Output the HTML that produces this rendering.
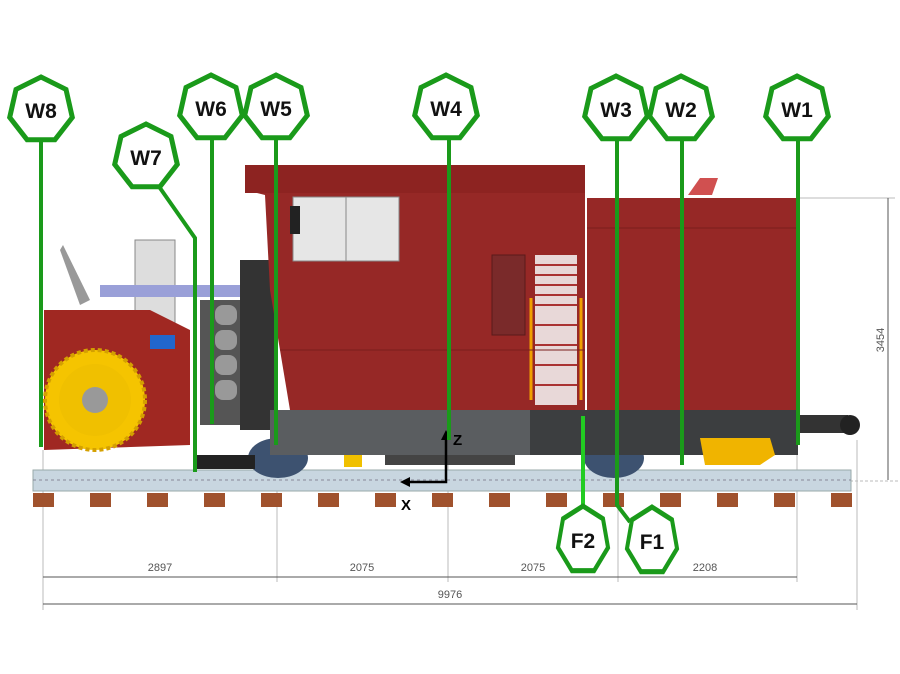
<!DOCTYPE html>
<html><head><meta charset="utf-8"><style>
html,body{margin:0;padding:0;background:#fff;width:900px;height:674px;overflow:hidden}
svg{display:block}
text{font-family:"Liberation Sans",sans-serif}
</style></head><body>
<svg width="900" height="674" viewBox="0 0 900 674" xmlns="http://www.w3.org/2000/svg">
<defs>
<polygon id="hep" points="0,-33 25,-20.6 31.3,7.4 13.9,29.8 -13.9,29.8 -31.3,7.4 -25,-20.6" fill="#fff" stroke="#1a9a1a" stroke-width="5"/>
</defs>
<g stroke="#bbb" stroke-width="1">
<line x1="43" y1="450" x2="43" y2="610"/><line x1="277" y1="450" x2="277" y2="582"/>
<line x1="448" y1="450" x2="448" y2="582"/><line x1="618" y1="450" x2="618" y2="582"/>
<line x1="797" y1="450" x2="797" y2="582"/><line x1="857" y1="440" x2="857" y2="610"/>
<line x1="800" y1="198" x2="895" y2="198"/><line x1="850" y1="481" x2="900" y2="481" stroke-dasharray="3,2"/>
</g>
<g stroke="#555" stroke-width="1" fill="#555">
<line x1="43" y1="577" x2="797" y2="577"/>
<line x1="43" y1="604" x2="857" y2="604"/>
<line x1="888" y1="198" x2="888" y2="480"/>
</g>
<g font-size="11" fill="#555" text-anchor="middle">
<text x="160" y="571">2897</text><text x="362" y="571">2075</text>
<text x="533" y="571">2075</text><text x="705" y="571">2208</text>
<text x="450" y="598">9976</text>
<text transform="translate(884,340) rotate(-90)">3454</text>
</g>
<rect x="33" y="470" width="818" height="21" fill="#c8d6e0" stroke="#9aa" stroke-width="1"/>
<line x1="33" y1="480" x2="851" y2="480" stroke="#889" stroke-dasharray="3,3"/>
<g fill="#a0522d">
<rect x="33" y="493" width="21" height="14"/><rect x="90" y="493" width="21" height="14"/><rect x="147" y="493" width="21" height="14"/><rect x="204" y="493" width="21" height="14"/><rect x="261" y="493" width="21" height="14"/><rect x="318" y="493" width="21" height="14"/><rect x="375" y="493" width="21" height="14"/><rect x="432" y="493" width="21" height="14"/><rect x="489" y="493" width="21" height="14"/><rect x="546" y="493" width="21" height="14"/><rect x="603" y="493" width="21" height="14"/><rect x="660" y="493" width="21" height="14"/><rect x="717" y="493" width="21" height="14"/><rect x="774" y="493" width="21" height="14"/><rect x="831" y="493" width="21" height="14"/>
</g>
<ellipse cx="278" cy="458" rx="30" ry="20" fill="#3d5270"/>
<ellipse cx="614" cy="458" rx="30" ry="20" fill="#3d5270"/>
<rect x="195" y="455" width="60" height="14" fill="#222"/>
<polygon points="63,245 90,300 80,305 60,250" fill="#999"/>
<rect x="135" y="240" width="40" height="85" fill="#ddd" stroke="#888"/>
<rect x="100" y="285" width="180" height="12" fill="#9aa0d8"/>
<polygon points="44,310 150,310 190,330 190,445 44,450" fill="#a02822"/>
<rect x="150" y="335" width="25" height="14" fill="#2266cc"/>
<circle cx="95" cy="400" r="50" fill="#f5c400" stroke="#d4a000" stroke-width="4" stroke-dasharray="4,3"/>
<circle cx="95" cy="400" r="36" fill="#f0c000"/>
<circle cx="95" cy="400" r="13" fill="#999"/>
<rect x="200" y="300" width="60" height="125" fill="#555"/>
<g fill="#999"><rect x="215" y="305" width="22" height="20" rx="8"/><rect x="215" y="330" width="22" height="20" rx="8"/><rect x="215" y="355" width="22" height="20" rx="8"/><rect x="215" y="380" width="22" height="20" rx="8"/></g>
<rect x="240" y="260" width="35" height="170" fill="#333"/>
<polygon points="245,165 585,165 585,410 290,410 270,290 265,195 245,190" fill="#962826"/>
<rect x="245" y="165" width="340" height="28" fill="#8d2321"/>
<rect x="293" y="197" width="106" height="64" fill="#e6e6e6" stroke="#888"/>
<line x1="346" y1="197" x2="346" y2="261" stroke="#888"/>
<rect x="290" y="206" width="10" height="28" fill="#222"/>
<rect x="492" y="255" width="33" height="80" fill="#7a2a2a" stroke="#5a1a1a"/>
<rect x="535" y="255" width="42" height="150" fill="#e8d8d8"/>
<g stroke="#a33" stroke-width="2"><line x1="535" y1="265" x2="577" y2="265"/><line x1="535" y1="275" x2="577" y2="275"/><line x1="535" y1="285" x2="577" y2="285"/><line x1="535" y1="295" x2="577" y2="295"/><line x1="535" y1="305" x2="577" y2="305"/><line x1="535" y1="325" x2="577" y2="325"/><line x1="535" y1="345" x2="577" y2="345"/><line x1="535" y1="365" x2="577" y2="365"/><line x1="535" y1="385" x2="577" y2="385"/></g>
<g stroke="#f0a000" stroke-width="3" fill="none"><line x1="531" y1="298" x2="531" y2="400"/><line x1="581" y1="298" x2="581" y2="400"/></g>
<line x1="280" y1="350" x2="585" y2="350" stroke="#7a1e1c"/>
<rect x="587" y="198" width="211" height="212" fill="#962826"/>
<polygon points="688,195 700,178 718,178 712,195" fill="#d05050"/>
<line x1="587" y1="228" x2="798" y2="228" stroke="#7a1e1c"/>
<rect x="270" y="410" width="260" height="45" fill="#5a5d60"/>
<rect x="530" y="410" width="268" height="45" fill="#3c3e40"/>
<rect x="385" y="455" width="130" height="10" fill="#444"/>
<rect x="344" y="455" width="18" height="12" fill="#f0c000"/>
<polygon points="700,438 770,438 775,455 760,465 705,465" fill="#f0b400"/>
<rect x="798" y="415" width="50" height="18" fill="#333"/>
<circle cx="850" cy="425" r="10" fill="#222"/>
<g stroke="#000" stroke-width="2.5" fill="none"><polyline points="446,436 446,482 405,482"/></g>
<polygon points="446,430 441,440 451,440" fill="#000"/><polygon points="400,482 410,477 410,487" fill="#000"/>
<text x="453" y="445" font-size="15" font-weight="bold">Z</text>
<text x="401" y="510" font-size="15" font-weight="bold">X</text>
<g stroke="#1a9a1a" stroke-width="4" fill="none">
<line x1="41" y1="140" x2="41" y2="447"/>
<polyline points="160,188 195,238 195,472"/>
<line x1="212" y1="138" x2="212" y2="424"/>
<line x1="276" y1="138" x2="276" y2="445"/>
<line x1="449" y1="138" x2="449" y2="440"/>
<polyline points="617,138 617,505 630,522"/>
<line x1="682" y1="138" x2="682" y2="465"/>
<line x1="798" y1="138" x2="798" y2="445"/>
</g>
<polyline points="583,416 583,507" stroke="#22cc22" stroke-width="4" fill="none"/>
<g font-size="21" font-weight="bold" text-anchor="middle" fill="#111">
<use href="#hep" transform="translate(41,110)"/><text x="41" y="118">W8</text>
<use href="#hep" transform="translate(146,157)"/><text x="146" y="165">W7</text>
<use href="#hep" transform="translate(211,108)"/><text x="211" y="116">W6</text>
<use href="#hep" transform="translate(276,108)"/><text x="276" y="116">W5</text>
<use href="#hep" transform="translate(446,108)"/><text x="446" y="116">W4</text>
<use href="#hep" transform="translate(616,109)"/><text x="616" y="117">W3</text>
<use href="#hep" transform="translate(681,109)"/><text x="681" y="117">W2</text>
<use href="#hep" transform="translate(797,109)"/><text x="797" y="117">W1</text>
<use href="#hep" transform="translate(583,540) scale(0.8,1.03)" style="stroke:#22cc22"/><text x="583" y="548">F2</text>
<use href="#hep" transform="translate(652,541) scale(0.8,1.03)" style="stroke:#22cc22"/><text x="652" y="549">F1</text>
</g>
</svg>
</body></html>
